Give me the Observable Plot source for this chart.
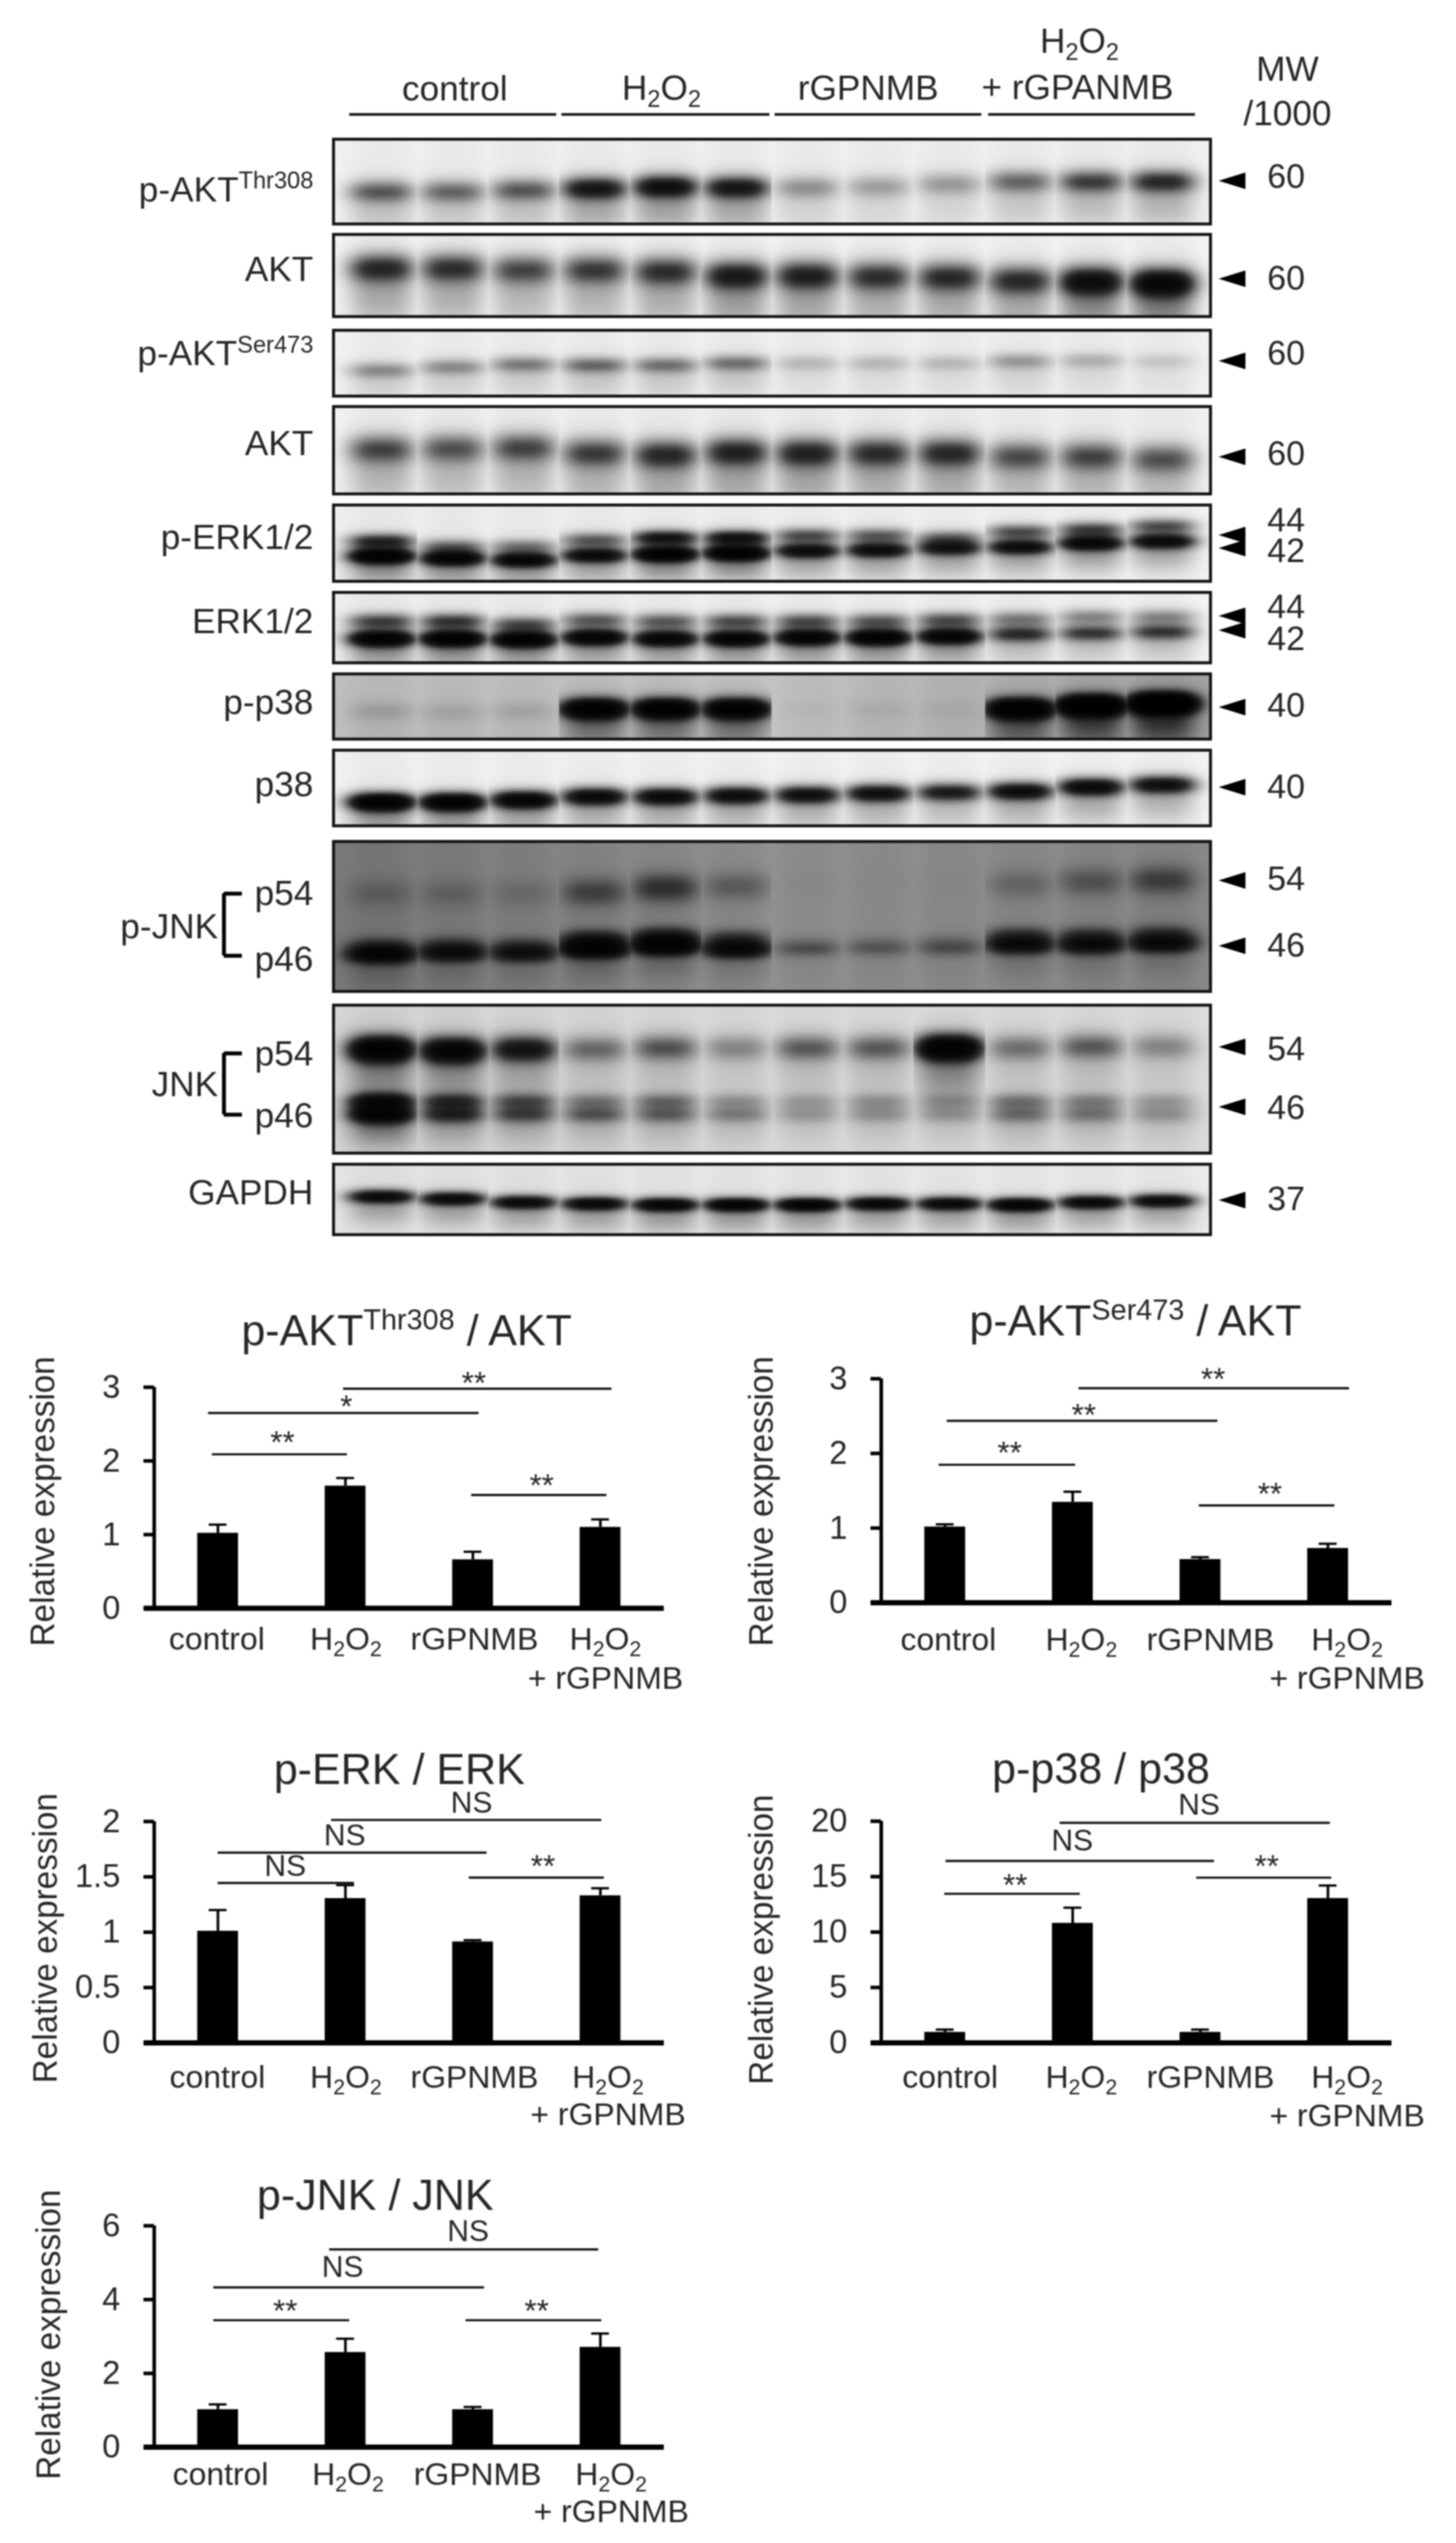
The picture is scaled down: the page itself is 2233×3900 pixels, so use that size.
<!DOCTYPE html>
<html>
<head>
<meta charset="utf-8">
<script src="https://cdn.jsdelivr.net/npm/d3@7"></script>
<script src="https://cdn.jsdelivr.net/npm/@observablehq/plot@0.6"></script>
<style>
  html, body { margin: 0; padding: 0; background: #fff; }
  #page { position: relative; width: 2233px; height: 3900px; overflow: hidden; background: #fff; filter: blur(1.2px); }
</style>
</head>
<body>
<div id="page"></div>
<script>
// ---------- Blot readings: one value per lane, band position as a fraction of the panel height, band density 0..1+
const pAktThrPos  = [.62,.62,.60,.58,.56,.57,.57,.56,.53,.50,.50,.50];
const pAktThrDens = [.50,.45,.50,.85,.95,.85,.30,.25,.27,.45,.60,.70];
const akt1Pos  = [.41,.41,.43,.43,.45,.50,.50,.51,.52,.56,.57,.59];
const akt1Dens = [.70,.65,.55,.60,.65,.80,.75,.65,.68,.68,.98,1.1];
const pAktSerPos  = [.61,.56,.52,.53,.53,.50,.50,.50,.50,.47,.46,.47];
const pAktSerDens = [.33,.33,.38,.45,.42,.42,.17,.17,.17,.28,.20,.12];
const akt2Pos  = [.49,.48,.47,.53,.55,.52,.53,.53,.53,.57,.57,.60];
const akt2Dens = [.55,.50,.55,.58,.68,.72,.72,.66,.68,.52,.55,.50];
const pErk42Pos  = [.67,.70,.72,.66,.645,.63,.60,.59,.565,.55,.50,.475];
const pErk42Dens = [1.3,1.15,1.1,1.0,1.3,1.3,.95,.95,.85,.95,1.05,1.0];
const pErk44Pos  = [.475,.545,.545,.46,.43,.43,.40,.40,.43,.35,.32,.275];
const pErk44Dens = [.75,.45,.40,.50,.90,.95,.55,.50,.45,.55,.60,.55];
const erk42Pos  = [.657,.657,.67,.64,.657,.657,.64,.64,.625,.594,.58,.563];
const erk42Dens = [1.3,1.35,1.3,1.2,1.15,1.2,1.2,1.3,1.15,.65,.60,.60];
const erk44Pos  = [.41,.41,.455,.394,.41,.41,.41,.41,.394,.38,.35,.35];
const erk44Dens = [.60,.65,.55,.50,.50,.55,.55,.52,.55,.40,.35,.35];
const pP38Pos  = [.57,.585,.57,.535,.535,.535,.55,.55,.55,.535,.487,.454];
const pP38Dens = [.10,.08,.08,1.4,1.4,1.4,.02,.04,.03,1.5,1.8,2.0];
const p38Pos  = [.686,.686,.657,.614,.614,.60,.59,.57,.557,.543,.486,.457];
const p38Dens = [1.5,1.45,1.25,1.1,1.1,1.05,1.0,1.0,.85,1.05,1.1,1.0];
const pJnk54Pos  = [.347,.347,.347,.338,.31,.30,.28,.28,.28,.285,.267,.258];
const pJnk54Dens = [.10,.10,.08,.26,.36,.18,.01,.01,.01,.13,.20,.28];
const pJnk46Pos  = [.756,.747,.747,.72,.70,.72,.715,.712,.712,.694,.694,.685];
const pJnk46Dens = [.85,.65,.60,1.0,1.05,.80,.22,.18,.20,.70,.70,.72];
const pJnk46SmearPos  = [.70,.69,.69,.655,.635,.65,.66,.66,.66,.63,.63,.62];
const pJnk46SmearDens = [.30,.25,.22,.55,.55,.35,.03,.04,.07,.35,.35,.35];
const jnk54Pos  = [.297,.306,.297,.297,.288,.288,.288,.288,.288,.288,.279,.279];
const jnk54Dens = [1.4,1.2,.85,.38,.46,.28,.44,.44,1.4,.36,.44,.28];
const jnk46UpperPos  = [.65,.65,.65,.65,.65,.65,.65,.65,.65,.65,.65,.65];
const jnk46UpperDens = [.95,.55,.42,.30,.34,.22,.18,.22,.18,.32,.28,.20];
const jnk46LowerPos  = [.74,.74,.74,.74,.74,.74,.74,.74,.74,.74,.74,.74];
const jnk46LowerDens = [1.0,.55,.42,.38,.34,.26,.18,.20,.18,.30,.28,.20];
const gapdhPos  = [.46,.49,.54,.56,.575,.575,.575,.56,.56,.575,.54,.52];
const gapdhDens = [1.05,1.05,1.05,1.1,1.2,1.25,1.25,1.15,1.1,1.25,1.1,1.05];

// ---------- Bar values
const categories = ["control", "H_{2}O_{2}", "rGPNMB", "H_{2}O_{2}"];
const categoriesSecondLine = ["+ rGPNMB"];
const thrMeans = [1.02, 1.66, 0.66, 1.10];
const thrErrors = [0.115, 0.108, 0.107, 0.106];
const serMeans = [1.016, 1.347, 0.58, 0.729];
const serErrors = [0.034, 0.14, 0.03, 0.061];
const erkMeans = [1.01, 1.305, 0.913, 1.33];
const erkErrors = [0.19, 0.12, 0.015, 0.067];
const p38Means = [0.96, 10.8, 0.96, 13.04];
const p38Errors = [0.24, 1.4, 0.24, 1.16];
const jnkMeans = [1.02, 2.57, 1.02, 2.71];
const jnkErrors = [0.14, 0.37, 0.07, 0.37];

// significance brackets: from, to (category units), level, mark
const thrSig = [[.455,1.514,2.09,"**",1.006,2.319],[.425,2.547,2.65,"*",1.507,2.802],[1.484,3.59,2.98,"**",2.507,3.126],[2.489,3.55,1.537,"**",3.04,1.73]];
const serSig = [[.452,1.522,1.848,"**",1.006,2.072],[.516,2.636,2.437,"**",1.587,2.58],[1.548,3.668,2.874,"**",2.6,3.057],[2.49,3.553,1.303,"**",3.045,1.52]];
const erkSig = [[.5,1.57,1.445,"NS",1.028,1.594],[.5,2.61,1.719,"NS",1.495,1.87],[1.39,3.51,2.014,"NS",2.49,2.166],[2.47,3.53,1.493,"**",3.05,1.642]];
const p38Sig = [[.496,1.558,13.45,"**",1.05,14.7],[.506,2.61,16.42,"NS",1.497,18.2],[1.40,3.517,19.86,"NS",2.49,21.44],[2.47,3.528,14.91,"**",3.02,16.4]];
const jnkSig = [[.466,1.532,3.44,"**",1.028,3.83],[.466,2.59,4.33,"NS",1.478,4.88],[1.375,3.486,5.36,"NS",2.463,5.84],[2.445,3.51,3.44,"**",3.0,3.83]];

// ---------- Layout
const FONT = '"Liberation Sans", Arial, sans-serif';
const INK = "#262626";
const page = document.getElementById("page");
const laneDomain = [-0.68, 11.68];

const blots = [
 {top:213,bottom:343,bg:[.05,.05,.05],sd:.13,tail:.3,bands:[[pAktThrPos,pAktThrDens]],labels:[["p-AKT^{Thr308}",.60]],arrows:[.49],mw:[["60",.446]]},
 {top:359,bottom:485,bg:[.04,.04,.04],sd:.17,tail:.38,bands:[[akt1Pos,akt1Dens]],labels:[["AKT",.43]],arrows:[.54],mw:[["60",.54]]},
 {top:506,bottom:607,bg:[.05,.05,.05],sd:.12,tail:.3,bands:[[pAktSerPos,pAktSerDens]],labels:[["p-AKT^{Ser473}",.36]],arrows:[.465],mw:[["60",.356]]},
 {top:623,bottom:757,bg:[.05,.05,.05],sd:.16,tail:.38,bands:[[akt2Pos,akt2Dens]],labels:[["AKT",.425]],arrows:[.575],mw:[["60",.545]]},
 {top:774,bottom:891,bg:[.06,.05,.04],sd:.095,tail:.22,bands:[[pErk42Pos,pErk42Dens],[pErk44Pos,pErk44Dens]],labels:[["p-ERK1/2",.43]],arrows:[.393,.564],mw:[["44",.205],["42",.607]]},
 {top:908,bottom:1016,bg:[.06,.05,.04],sd:.11,tail:.22,bands:[[erk42Pos,erk42Dens],[erk44Pos,erk44Dens]],labels:[["ERK1/2",.42]],arrows:[.333,.537],mw:[["44",.213],["42",.667]]},
 {top:1033,bottom:1133,bg:[.25,.22,.36],sd:.15,tail:.22,bands:[[pP38Pos,pP38Dens]],labels:[["p-p38",.44]],arrows:[.51],mw:[["40",.49]]},
 {top:1150,bottom:1266,bg:[.05,.04,.04],sd:.115,tail:.22,bands:[[p38Pos,p38Dens]],labels:[["p38",.457]],arrows:[.49],mw:[["40",.49]]},
 {top:1290,bottom:1520,bg:[.52,.42,.46],sd:.055,tail:.08,bands:[[pJnk54Pos,pJnk54Dens,1.7],[pJnk46Pos,pJnk46Dens],[pJnk46SmearPos,pJnk46SmearDens,1.1]],
  labels:[["p54",.348],["p46",.79]],outer:["p-JNK",.57],bracket:[.348,.762],arrows:[.26,.696],mw:[["54",.25],["46",.693]]},
 {top:1541,bottom:1768,bg:[.16,.13,.13],sd:.075,tail:.22,bands:[[jnk54Pos,jnk54Dens,1.15],[jnk46UpperPos,jnk46UpperDens,.75],[jnk46LowerPos,jnk46LowerDens,.75]],
  labels:[["p54",.33],["p46",.75]],outer:["JNK",.54],bracket:[.326,.74],arrows:[.282,.687],mw:[["54",.30],["46",.696]]},
 {top:1785,bottom:1893,bg:[.10,.08,.07],sd:.095,tail:.22,bands:[[gapdhPos,gapdhDens]],labels:[["GAPDH",.41]],arrows:[.51],mw:[["37",.50]]}
];

const bars = [
 {title:"p-AKT^{Thr308} / AKT",titleX:1.98,titleDy:-86,means:thrMeans,errors:thrErrors,sig:thrSig,ticks:[0,1,2,3],
  box:{left:0,top:1970,width:1116,height:660,marginLeft:236,marginRight:98,marginTop:157,marginBottom:164},
  labelX:[.491,1.504,2.512,3.54],line1:48,line2:108,axisLabel:[-.87,1.451]},
 {title:"p-AKT^{Ser473} / AKT",titleX:1.992,titleDy:-88,means:serMeans,errors:serErrors,sig:serSig,ticks:[0,1,2,3],
  box:{left:1116,top:1970,width:1117,height:660,marginLeft:235,marginRight:99,marginTop:144,marginBottom:172.5},
  labelX:[.526,1.568,2.58,3.65],line1:57.5,line2:116.5,axisLabel:[-.935,1.358]},
 {title:"p-ERK / ERK",titleX:1.923,titleDy:-79,means:erkMeans,errors:erkErrors,sig:erkSig,ticks:[0,.5,1,1.5,2],
  box:{left:0,top:2660,width:1116,height:640,marginLeft:236,marginRight:98,marginTop:133,marginBottom:167.5},
  labelX:[.496,1.504,2.512,3.56],line1:53.5,line2:110.5,axisLabel:[-.849,.9455]},
 {title:"p-p38 / p38",titleX:1.722,titleDy:-79,means:p38Means,errors:p38Errors,sig:p38Sig,ticks:[0,5,10,15,20],
  box:{left:1116,top:2660,width:1117,height:640,marginLeft:235,marginRight:99,marginTop:132.6,marginBottom:167.5},
  labelX:[.54,1.568,2.58,3.65],line1:53.5,line2:112.5,axisLabel:[-.935,9.32]},
 {title:"p-JNK / JNK",titleX:1.734,titleDy:-46,means:jnkMeans,errors:jnkErrors,sig:jnkSig,ticks:[0,2,4,6],
  box:{left:0,top:3280,width:1116,height:620,marginLeft:236,marginRight:98,marginTop:133,marginBottom:147.4},
  labelX:[.52,1.52,2.537,3.585],line1:42.4,line2:99.4,axisLabel:[-.824,3.05]}
];

// ---------- Helpers
function placed(left, top, options) {
  const svg = Plot.plot({
    ...options,
    style: {position:"absolute", left:left+"px", top:top+"px", overflow:"visible", background:"transparent",
            fontFamily:FONT, color:INK, maxWidth:"none"}
  });
  page.appendChild(svg);
  rich(svg);
  return svg;
}
// turns _{x} and ^{x} in a drawn label into real sub- and superscript tspans
function rich(svg) {
  const NS = "http://www.w3.org/2000/svg";
  svg.querySelectorAll("text").forEach(n => {
    const s = n.textContent;
    if (!/[_^]\{/.test(s)) return;
    const fs = parseFloat(getComputedStyle(n).fontSize);
    n.textContent = "";
    let shift = 0;
    s.split(/([_^]\{[^}]*\})/).filter(Boolean).forEach(p => {
      const m = p.match(/^([_^])\{(.*)\}$/);
      const t = document.createElementNS(NS, "tspan");
      const want = m ? (m[1] === "^" ? -0.36 * fs : 0.2 * fs) : 0;
      t.textContent = m ? m[2] : p;
      if (m) t.setAttribute("font-size", fs * 0.67);
      t.setAttribute("dy", want - shift);
      shift = want;
      n.appendChild(t);
    });
  });
}
const laneProfile = d => Math.exp(-Math.pow(Math.abs(d) / 0.47, 3));
// film response: dense bands roll off into black instead of clipping
const film = d => d < .7 ? d : .7 + .3 * (1 - Math.exp(-(d - .7) / .3));

function blotDarkness(b) {
  return (x, y) => {
    const u = (x - laneDomain[0]) / (laneDomain[1] - laneDomain[0]);
    const base = u < .5 ? b.bg[0] + (b.bg[1] - b.bg[0]) * u * 2 : b.bg[1] + (b.bg[2] - b.bg[1]) * (u - .5) * 2;
    const lane = Math.max(0, Math.min(11, Math.round(x)));
    const l = laneProfile(x - lane);
    let d = base + 0.035 * l;
    for (const [pos, dens, widen = 1] of b.bands) {
      const s = b.sd * widen;
      const e = (y - pos[lane]) / s;
      const t = (y - pos[lane] - 1.8 * s) / (2.4 * s);
      d += dens[lane] * l * (Math.exp(-e * e) + b.tail * Math.exp(-t * t));
    }
    return film(d);
  };
}

// ---------- Header above the blots
const groupSpans = [[-.455,2.463],[2.536,5.468],[5.541,8.454],[8.551,11.465]];
const headerLabels = [["control",1.03,.638],["H_{2}O_{2}",3.942,.635],["rGPNMB",6.855,.635],["H_{2}O_{2}",9.833,.296],["+ rGPANMB",9.805,.63],["MW",12.764,.498],["/1000",12.764,.817]];
placed(0, 0, {
  width:2233, height:213, marginLeft:511, marginRight:377, marginTop:0, marginBottom:0,
  x:{domain:laneDomain, axis:null}, y:{domain:[0,1], reverse:true, axis:null},
  marks:[
    Plot.ruleY(groupSpans,{y:.822, x1:d=>d[0], x2:d=>d[1], stroke:"#111", strokeWidth:4}),
    Plot.text(headerLabels,{x:d=>d[1], y:d=>d[2], text:d=>d[0], fontSize:54, fill:INK})
  ]
});

// ---------- Blot panels
const arrowHead = {draw(ctx, size){ const r = Math.sqrt(size); ctx.moveTo(-r,0); ctx.lineTo(r,-.62*r); ctx.lineTo(r,.62*r); ctx.closePath(); }};
const edge = laneDomain[0];
for (const b of blots) {
  const marks = [
    Plot.raster({x1:laneDomain[0], x2:laneDomain[1], y1:0, y2:1, pixelSize:2, fill:blotDarkness(b), imageRendering:"auto"}),
    Plot.frame({stroke:"#111", strokeWidth:4.5}),
    Plot.dot(b.arrows,{x:11.983, y:d=>d, r:11.6, symbol:arrowHead, fill:"#000", stroke:"none"}),
    Plot.text(b.mw,{x:12.746, y:d=>d[1], text:d=>d[0], fontSize:52, fill:INK}),
    Plot.text(b.labels,{x:edge, y:d=>d[1], text:d=>d[0], dx:-31, textAnchor:"end", fontSize:54, fill:INK})
  ];
  if (b.outer) marks.push(
    Plot.text([b.outer],{x:edge, y:d=>d[1], text:d=>d[0], dx:-177, textAnchor:"end", fontSize:54, fill:INK}),
    Plot.ruleX([-2.224],{y1:b.bracket[0], y2:b.bracket[1], stroke:"#000", strokeWidth:6}),
    Plot.ruleY(b.bracket,{x1:-2.224, x2:-1.967, stroke:"#000", strokeWidth:6})
  );
  placed(0, b.top, {
    width:2233, height:b.bottom-b.top, marginLeft:511, marginRight:377, marginTop:0, marginBottom:0,
    x:{domain:laneDomain, axis:null}, y:{domain:[0,1], reverse:true, axis:null},
    color:{type:"linear", domain:[0,1], range:["#fff","#000"], clamp:true},
    marks
  });
}

// ---------- Bar charts
for (const c of bars) {
  const rows = c.means.map((v,i)=>({mid:i+.5, v, top:v+c.errors[i]}));
  const ymax = c.ticks[c.ticks.length-1];
  const {left, top, ...box} = c.box;
  const asterisks = c.sig.filter(d=>d[3]!=="NS"), ns = c.sig.filter(d=>d[3]==="NS");
  placed(left, top, {
    ...box,
    x:{domain:[0,4], axis:null}, y:{domain:[0,ymax], axis:null},
    marks:[
      Plot.ruleX(rows,{x:"mid", y1:"v", y2:"top", stroke:"#000", strokeWidth:4}),
      Plot.ruleY(rows,{y:"top", x1:d=>d.mid-.07, x2:d=>d.mid+.07, stroke:"#000", strokeWidth:3.5}),
      Plot.rectY(rows,{x1:d=>d.mid-.16, x2:d=>d.mid+.16, y:"v", fill:"#000"}),
      Plot.axisY({anchor:"left", ticks:c.ticks, tickFormat:d=>String(d), label:null, tickSize:16, tickPadding:36, fontSize:50, stroke:"#000", fill:INK, strokeWidth:5.5}),
      Plot.ruleX([0],{stroke:"#000", strokeWidth:5.5}),
      Plot.ruleY([0],{x1:-.08, x2:4, stroke:"#000", strokeWidth:8}),
      Plot.ruleY(c.sig,{y:d=>d[2], x1:d=>d[0], x2:d=>d[1], stroke:"#111", strokeWidth:3.4}),
      Plot.text(asterisks,{x:d=>d[4], y:d=>d[5], text:d=>d[3], fontSize:48, dy:8, fill:INK}),
      Plot.text(ns,{x:d=>d[4], y:d=>d[5], text:d=>d[3], fontSize:46, fill:INK}),
      Plot.text(categories,{x:(d,i)=>c.labelX[i], y:0, dy:c.line1, text:d=>d, fontSize:49, fill:INK}),
      Plot.text(categoriesSecondLine,{x:c.labelX[3], y:0, dy:c.line2, text:d=>d, fontSize:49, fill:INK}),
      Plot.text([c.title],{x:c.titleX, y:ymax, dy:c.titleDy, text:d=>d, fontSize:66, fill:INK}),
      Plot.text(["Relative expression"],{x:c.axisLabel[0], y:c.axisLabel[1], text:d=>d, rotate:-90, fontSize:51, fill:INK})
    ]
  });
}
</script>
</body>
</html>
